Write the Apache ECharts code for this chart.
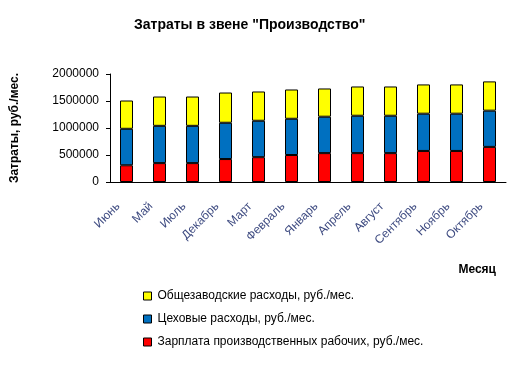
<!DOCTYPE html>
<html>
<head>
<meta charset="utf-8">
<script src="https://cdn.jsdelivr.net/npm/echarts@6/dist/echarts.min.js"></script>
<style>html,body{margin:0;padding:0;background:#fff}#c{width:521px;height:365px}</style>
</head>
<body>
<div id="c"></div>
<script>
const months = ['Июнь','Май','Июль','Декабрь','Март','Февраль','Январь','Апрель','Август','Сентябрь','Ноябрь','Октябрь'];
const wages = [310000, 350000, 350000, 425000, 460000, 500000, 535000, 535000, 535000, 575000, 575000, 650000];
const shopCosts = [675000, 690000, 690000, 672000, 674000, 671000, 674000, 692000, 692000, 690000, 690000, 671000];
const plantCosts = [524000, 543000, 543000, 560000, 542000, 542000, 523000, 542000, 542000, 542000, 542000, 542000];
const yTicks = {min: 0, max: 2000000, interval: 500000};
const names = {
  plant: 'Общезаводские расходы, руб./мес.',
  shop: 'Цеховые расходы, руб./мес.',
  wages: 'Зарплата производственных рабочих, руб./мес.'
};

const chart = echarts.init(document.getElementById('c'), null, {renderer: 'canvas'});
const font = 'Arial, "Liberation Sans", sans-serif';
const barStyle = c => ({color: c, borderColor: '#000', borderWidth: 1});
chart.setOption({
  animation: false,
  textStyle: {fontFamily: font},
  title: {
    text: 'Затраты в звене "Производство"',
    left: 134, top: 18, padding: 0,
    textStyle: {fontFamily: font, fontSize: 14, fontWeight: 'bold', color: '#000'}
  },
  grid: {left: 110, right: 15, top: 74, bottom: 183},
  legend: {
    orient: 'vertical', left: 143, top: 290, padding: 0,
    itemWidth: 8, itemHeight: 8, itemGap: 11,
    icon: 'rect',
    data: [names.plant, names.shop, names.wages],
    itemStyle: {borderColor: '#000', borderWidth: 1},
    textStyle: {fontFamily: font, fontSize: 12, color: '#000', padding: [0, 0, 0, 1]}
  },
  xAxis: {
    type: 'category', data: months,
    name: 'Месяц', nameLocation: 'end',
    nameTextStyle: {fontFamily: font, fontSize: 12, fontWeight: 'bold', color: '#000', align: 'right', verticalAlign: 'top', padding: [82, 0, 0, 0]},
    nameGap: -10,
    axisLine: {lineStyle: {color: '#000'}},
    axisTick: {length: 4, lineStyle: {color: '#000'}},
    axisLabel: {rotate: 45, margin: 14, padding: [0, 12, 0, 0], fontFamily: font, fontSize: 12, color: '#3d4a80', interval: 0}
  },
  yAxis: {
    type: 'value', min: yTicks.min, max: yTicks.max, interval: yTicks.interval,
    name: 'Затраты, руб./мес.', nameLocation: 'middle', nameGap: 89, nameRotate: 90,
    nameTextStyle: {fontFamily: font, fontSize: 12, fontWeight: 'bold', color: '#000'},
    axisLine: {show: true, lineStyle: {color: '#000'}},
    axisTick: {show: true, length: 4, lineStyle: {color: '#000'}},
    axisLabel: {margin: 11, fontFamily: font, fontSize: 12, color: '#000', formatter: v => String(v)},
    splitLine: {show: false}
  },
  series: [
    {name: names.wages, type: 'bar', stack: 's', data: wages, barWidth: 13, itemStyle: barStyle('#FF0000')},
    {name: names.shop, type: 'bar', stack: 's', data: shopCosts, barWidth: 13, itemStyle: barStyle('#0070C0')},
    {name: names.plant, type: 'bar', stack: 's', data: plantCosts, barWidth: 13, itemStyle: barStyle('#FFFF00')}
  ]
});
</script>
</body>
</html>
